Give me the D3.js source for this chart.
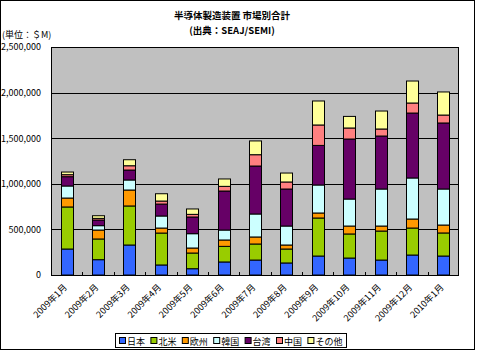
<!DOCTYPE html>
<html><head><meta charset="utf-8">
<script src="https://cdn.jsdelivr.net/npm/d3@7"></script>
<style>html,body{margin:0;padding:0;background:#fff;}svg{display:block;}text{font-family:"Noto Sans CJK JP","DejaVu Sans",sans-serif;}</style>
</head><body>
<script>
const categories = ["2009年1月","2009年2月","2009年3月","2009年4月","2009年5月","2009年6月","2009年7月","2009年8月","2009年9月","2009年10月","2009年11月","2009年12月","2010年1月"];
const seriesNames = ["日本","北米","欧州","韓国","台湾","中国","その他"];
const japan        = [285000,168000,329000,110000, 69000,143000,164000,132000,208000,186000,164000,219000,208000];
const northAmerica = [461000,227000,428000,350000,172000,171000,176000,153000,417000,264000,318000,296000,253000];
const europe       = [ 98000, 98000,175000, 55000, 55000, 70000, 77000, 44000, 55000, 87000, 55000, 99000, 87000];
const korea        = [132000, 48000,110000,132000,157000,109000,252000,208000,307000,296000,406000,450000,395000];
const taiwan       = [102000, 62000,109000,131000,183000,428000,526000,406000,434000,658000,581000,712000,724000];
const china        = [ 22000, 18000, 47000, 33000, 29000, 51000,124000, 77000,224000,121000, 77000,110000, 87000];
const other        = [ 29000, 29000, 66000, 80000, 59000, 81000,151000, 98000,263000,127000,197000,241000,253000];
const yTicks = [0,500000,1000000,1500000,2000000,2500000];
const colors = ["#3366FF","#99CC00","#FF9900","#CCFFFF","#660066","#FF8080","#FFFF99"];

const seriesValues = [japan,northAmerica,europe,korea,taiwan,china,other];
const rows = categories.map((c,i)=>{const r={cat:c}; seriesNames.forEach((s,j)=>r[s]=seriesValues[j][i]); return r;});

const W=478,H=351;
const svg=d3.select("body").append("svg").attr("width",W).attr("height",H);
svg.append("rect").attr("x",0).attr("y",0).attr("width",W).attr("height",H).attr("fill","#fff");
svg.append("rect").attr("x",0.5).attr("y",0.5).attr("width",474).attr("height",349).attr("fill","none").attr("stroke","#000").attr("stroke-width",1);

const pl=51,pr=459,pt=47,pb=275;
const x=d3.scaleBand().domain(categories).range([pl,pr]).paddingInner(0.618).paddingOuter(0.309);
const y=d3.scaleLinear().domain([0,2500000]).range([pb,pt]);

svg.append("rect").attr("x",pl).attr("y",pt).attr("width",pr-pl).attr("height",pb-pt).attr("fill","#C0C0C0");

// gridlines
svg.append("g").selectAll("line").data(yTicks).join("line")
  .attr("x1",pl).attr("x2",pr).attr("y1",d=>Math.round(y(d))+0.5).attr("y2",d=>Math.round(y(d))+0.5)
  .attr("stroke","#000").attr("stroke-width",1);

// bars
const stack=d3.stack().keys(seriesNames)(rows);
svg.append("g").selectAll("g").data(stack).join("g").attr("fill",(d,i)=>colors[i])
  .selectAll("rect").data(d=>d).join("rect")
  .attr("x",d=>Math.round(x(d.data.cat))+0.5).attr("width",Math.round(x.bandwidth()))
  .attr("y",d=>y(d[1])).attr("height",d=>y(d[0])-y(d[1]))
  .attr("stroke","#000").attr("stroke-width",1);

// plot border
svg.append("rect").attr("x",pl+0.5).attr("y",pt+0.5).attr("width",pr-pl-1).attr("height",pb-pt).attr("fill","none").attr("stroke","#000").attr("stroke-width",1);

// y axis labels
const yAxis=d3.axisLeft(y).tickValues(yTicks).tickFormat(d3.format(",")).tickSize(0).tickPadding(10);
const ya=svg.append("g").attr("transform",`translate(${pl},0)`).call(yAxis);
ya.select(".domain").remove();
ya.selectAll("text").attr("font-size",9).attr("fill","#000").attr("font-family",'"Noto Sans CJK JP",sans-serif');

// x axis
const step=x.step();
const xa=d3.axisBottom(x).tickSize(0).tickPadding(0);
const xg=svg.append("g").attr("transform",`translate(0,${pb})`).call(xa);
xg.select(".domain").remove();
xg.selectAll("text").attr("font-size",9).attr("fill","#000").attr("text-anchor","end")
  .attr("font-family",'"Noto Sans CJK JP",sans-serif')
  .attr("dy",0).attr("transform","translate(1,13) rotate(-45)");
// category tick marks (inside)
svg.append("g").selectAll("line").data(d3.range(1,categories.length)).join("line")
  .attr("x1",i=>Math.round(pl+i*step)+0.5).attr("x2",i=>Math.round(pl+i*step)+0.5)
  .attr("y1",pb-3).attr("y2",pb).attr("stroke","#000");

// title
svg.append("text").attr("x",232).attr("y",19).attr("text-anchor","middle").attr("font-size",9.5).attr("font-weight","bold").text("半導体製造装置 市場別合計");
svg.append("text").attr("x",232).attr("y",34).attr("text-anchor","middle").attr("font-size",9.5).attr("font-weight","bold").text("(出典：SEAJ/SEMI)");
svg.append("text").attr("x",2).attr("y",38).attr("font-size",9).text("(単位：＄M)");

// legend
const lg=svg.append("g");
lg.append("rect").attr("x",115.5).attr("y",333.5).attr("width",231).attr("height",14).attr("fill","#fff").attr("stroke","#000");
const items=lg.selectAll("g").data(seriesNames).join("g").attr("transform",(d,i)=>`translate(${119+i*31.4},0)`);
items.append("rect").attr("x",0.5).attr("y",337.5).attr("width",6).attr("height",6).attr("fill",(d,i)=>colors[i]).attr("stroke","#000");
items.append("text").attr("x",8).attr("y",344.5).attr("font-size",9).text(d=>d);
</script>
</body></html>
